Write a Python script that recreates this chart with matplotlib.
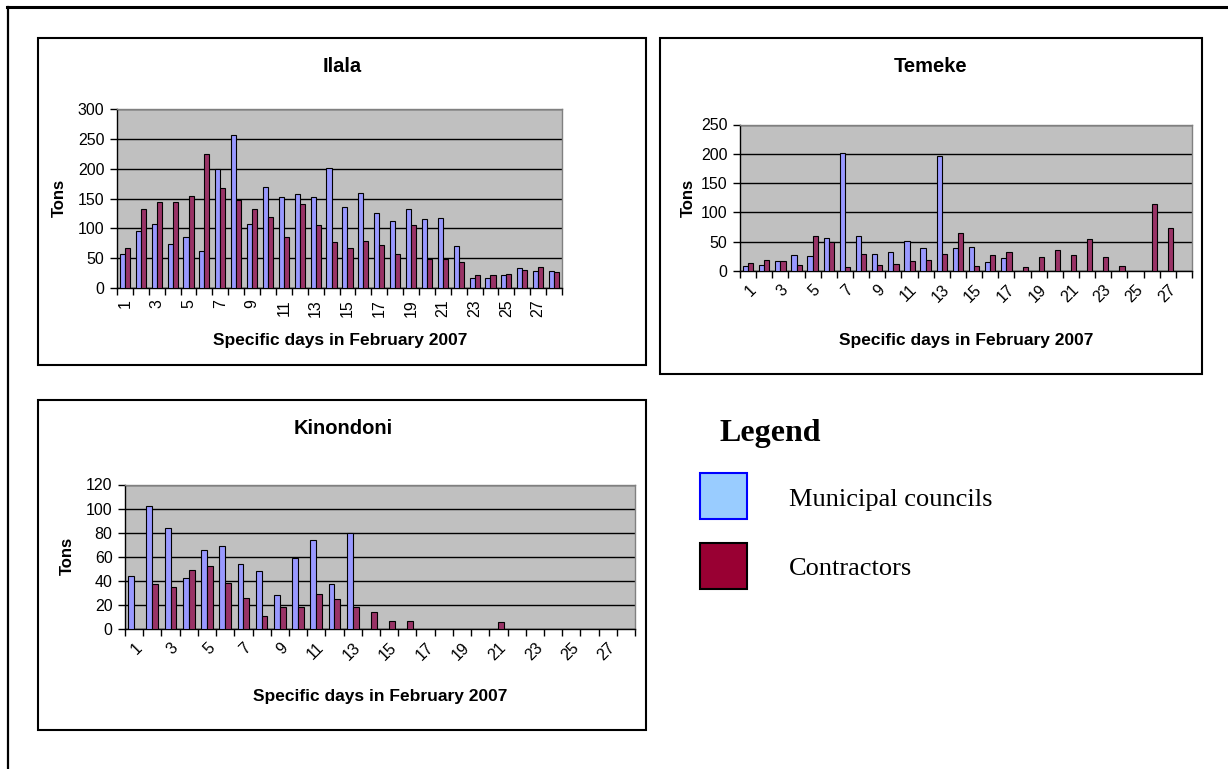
import numpy as np
import matplotlib.pyplot as plt
from matplotlib.patches import Rectangle
from matplotlib.lines import Line2D

# Daily tonnage collected, February 2007 (days 1-28)
days = np.arange(1, 29)
tick_labels = [str(d) for d in range(1, 29, 2)]

ilala_municipal = [57, 96, 108, 74, 86, 62, 199, 256, 108, 170, 153, 158, 153, 201,
                   136, 160, 125, 113, 132, 115, 118, 71, 17, 17, 21, 33, 29, 29]
ilala_contractors = [67, 133, 144, 144, 154, 225, 167, 148, 132, 119, 86, 141, 105, 77,
                     67, 79, 72, 57, 105, 48, 48, 43, 21, 21, 24, 31, 35, 26]

temeke_municipal = [9, 11, 17, 27, 26, 57, 201, 59, 29, 32, 52, 39, 197, 39,
                    41, 15, 22, 0, 0, 0, 0, 0, 0, 0, 0, 0, 0, 0]
temeke_contractors = [14, 19, 17, 10, 59, 49, 7, 29, 10, 12, 17, 19, 29, 65,
                      9, 27, 32, 7, 24, 35, 27, 54, 24, 9, 0, 114, 74, 0]

kinondoni_municipal = [44, 102, 84, 42, 66, 69, 54, 48, 28, 59, 74, 37, 80, 0,
                       0, 0, 0, 0, 0, 0, 0, 0, 0, 0, 0, 0, 0, 0]
kinondoni_contractors = [0, 37, 35, 49, 52, 38, 26, 11, 18, 18, 29, 25, 18, 14,
                         7, 7, 0, 0, 0, 0, 6, 0, 0, 0, 0, 0, 0, 0]

W, H = 1228, 769
MUNI_COLOR = '#9999FF'
CONT_COLOR = '#993366'
SANS = 'Liberation Sans'
SERIF = 'Liberation Serif'


def fx(x):
    return x / W


def fy(y):
    return 1 - y / H


def draw_panel(fig, rect, municipal, contractors, ymax, ystep, rot):
    left, top, right, bottom = rect
    ax = fig.add_axes([fx(left), fy(bottom), fx(right - left), (bottom - top) / H])
    ax.set_facecolor('#C0C0C0')
    ax.set_axisbelow(True)

    x = np.arange(len(days))
    w = 0.32
    m = np.array(municipal, dtype=float)
    c = np.array(contractors, dtype=float)
    ax.bar(x[m > 0] - w / 2, m[m > 0], width=w, color=MUNI_COLOR,
           edgecolor='black', linewidth=0.8, zorder=3)
    ax.bar(x[c > 0] + w / 2, c[c > 0], width=w, color=CONT_COLOR,
           edgecolor='black', linewidth=0.8, zorder=3)

    ax.set_xlim(-0.5, len(days) - 0.5)
    ax.set_ylim(0, ymax)
    ax.set_yticks(np.arange(0, ymax + 1, ystep))
    ax.yaxis.grid(True, color='black', linewidth=1)
    ax.tick_params(axis='y', direction='out', length=5, width=1,
                   labelsize=11.5, pad=4)
    for lab in ax.get_yticklabels():
        lab.set_fontfamily(SANS)

    # category boundary ticks, labels at every other category centre
    ax.set_xticks(np.arange(-0.5, len(days)), labels=[])
    ax.tick_params(axis='x', which='major', direction='out', length=5, width=1)
    ax.set_xticks(np.arange(0, len(days), 2), minor=True)
    if rot == 90:
        ax.set_xticklabels(tick_labels, minor=True, rotation=90,
                           ha='center', va='top', fontfamily=SANS, fontsize=11.5)
    else:
        ax.set_xticklabels(tick_labels, minor=True, rotation=rot, ha='right',
                           va='top', rotation_mode='anchor',
                           fontfamily=SANS, fontsize=11.5)
    ax.tick_params(axis='x', which='minor', length=0, pad=8)

    ax.spines['left'].set_color('black')
    ax.spines['bottom'].set_color('black')
    ax.spines['top'].set_color('#808080')
    ax.spines['right'].set_color('#808080')
    for s in ax.spines.values():
        s.set_linewidth(1)
    return ax


fig = plt.figure(figsize=(W / 100, H / 100), dpi=100)

# outer frame (top and left edges)
fig.add_artist(Line2D([fx(7), 1], [fy(7), fy(7)], color='black', linewidth=2.2))
fig.add_artist(Line2D([fx(7.5), fx(7.5)], [fy(7), 0], color='black', linewidth=1.6))

# panel boxes
for l, t, r, b in [(38, 38, 646, 365), (660, 38, 1202, 374), (38, 400, 646, 730)]:
    fig.add_artist(Rectangle((fx(l), fy(b)), fx(r - l), (b - t) / H,
                             transform=fig.transFigure, fill=False,
                             edgecolor='black', linewidth=1.5))

draw_panel(fig, (117, 109, 562, 288), ilala_municipal, ilala_contractors, 300, 50, 90)
draw_panel(fig, (740, 124.5, 1192, 271), temeke_municipal, temeke_contractors, 250, 50, 45)
draw_panel(fig, (125, 484.5, 635, 629), kinondoni_municipal, kinondoni_contractors, 120, 20, 45)

title_kw = dict(fontfamily=SANS, fontweight='bold', fontsize=14.5, ha='center', va='center')
fig.text(fx(342), fy(67), 'Ilala', **title_kw)
fig.text(fx(931), fy(67), 'Temeke', **title_kw)
fig.text(fx(343), fy(428), 'Kinondoni', **title_kw)

xl_kw = dict(fontfamily=SANS, fontweight='bold', fontsize=12.5, ha='center', va='center')
fig.text(fx(340), fy(341), 'Specific days in February 2007', **xl_kw)
fig.text(fx(966), fy(341), 'Specific days in February 2007', **xl_kw)
fig.text(fx(380), fy(696), 'Specific days in February 2007', **xl_kw)

yl_kw = dict(fontfamily=SANS, fontweight='bold', fontsize=12, ha='center',
             va='center', rotation=90)
fig.text(fx(59), fy(198), 'Tons', **yl_kw)
fig.text(fx(688), fy(198), 'Tons', **yl_kw)
fig.text(fx(67), fy(556), 'Tons', **yl_kw)

# legend block
fig.text(fx(720), fy(434), 'Legend', fontfamily=SERIF, fontweight='bold',
         fontsize=23, ha='left', va='center')
fig.add_artist(Rectangle((fx(700), fy(519)), fx(47), 46 / H, transform=fig.transFigure,
                         facecolor='#99CCFF', edgecolor='#0000FF', linewidth=1.5))
fig.add_artist(Rectangle((fx(700), fy(589)), fx(47), 46 / H, transform=fig.transFigure,
                         facecolor='#990033', edgecolor='black', linewidth=1.5))
fig.text(fx(789), fy(500), 'Municipal councils', fontfamily=SERIF, fontsize=19,
         ha='left', va='center')
fig.text(fx(789), fy(569), 'Contractors', fontfamily=SERIF, fontsize=19,
         ha='left', va='center')

fig.savefig('out.png', dpi=100)
